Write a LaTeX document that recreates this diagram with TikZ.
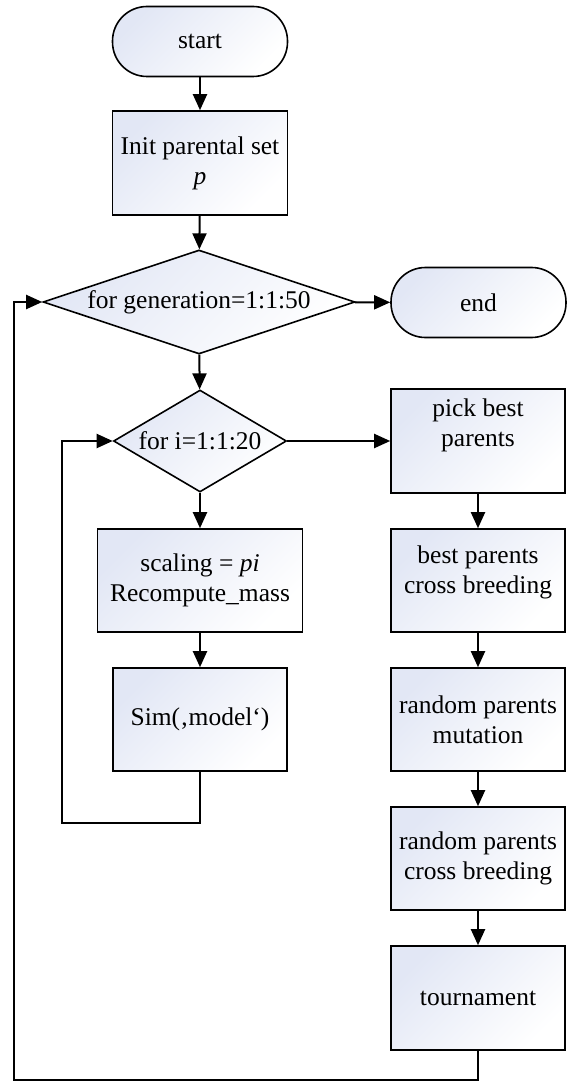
\documentclass[tikz,border=0pt]{standalone}
\usepackage{fontspec}
\setmainfont{Liberation Serif}
\usetikzlibrary{shapes.geometric,arrows.meta}
\definecolor{shadec}{HTML}{E2E7F5}
\begin{document}
\begin{tikzpicture}[x=1pt,y=-1pt,
  every node/.style={font=\fontsize{25.5}{30}\selectfont, align=center, inner sep=0pt},
  shaded/.style={draw, line width=1.6pt, top color=shadec, bottom color=white, shading angle=45},
  box/.style={shaded, rectangle, minimum width=174pt, minimum height=104pt},
  pill/.style={shaded, rectangle, rounded corners=34.5pt, minimum width=175pt, minimum height=70pt},
  decide/.style={shaded, diamond},
  conn/.style={line width=2pt, line join=miter, -{Triangle[length=16pt,width=14pt]}}
]
\path[use as bounding box] (0,0) rectangle (569,1083);

\node[pill] (start) at (200,41.5) {start};
\node[box, minimum width=175pt] (init) at (200,163) {Init parental set\\\textit{p}};
\node[decide, aspect=3, minimum width=312pt, minimum height=104pt] (bigd) at (199,302) {for generation=1:1:50};
\node[pill] (end) at (478.5,302.5) {end};
\node[decide, aspect=1.6, minimum width=173pt, minimum height=102pt] (smalld) at (200,441) {for i=1:1:20};
\node[box, minimum width=205pt, minimum height=103pt] (scal) at (200,580.5) {scaling = \textit{pi}\\Recompute\_mass};
\node[box, minimum height=103pt] (sim) at (200,719.5) {Sim(‚model‘)};

\node[box] (pick) at (478,441) {pick best\\parents\\[6pt]\mbox{}};
\node[box, minimum height=103pt] (bpc) at (478,580.5) {best parents\\cross breeding\\[-8pt]\mbox{}};
\node[box, minimum height=103pt] (rpm) at (478,719.5) {random parents\\mutation};
\node[box, minimum height=103pt] (rpc) at (478,858.5) {random parents\\cross breeding};
\node[box] (tour) at (478,998) {tournament};

\coordinate (l1a) at (200,823);
\coordinate (l1b) at (62,823);
\coordinate (l2b) at (14,1080);

\draw[conn] (start) -- (init);
\draw[conn] (init) -- (bigd);
\draw[conn] (bigd) -- (end);
\draw[conn] (bigd) -- (smalld);
\draw[conn] (smalld) -- (scal);
\draw[conn] (scal) -- (sim);
\draw[conn] (smalld) -- (pick);
\draw[conn] (pick) -- (bpc);
\draw[conn] (bpc) -- (rpm);
\draw[conn] (rpm) -- (rpc);
\draw[conn] (rpc) -- (tour);
\draw[conn] (sim.south) -- (l1a) -- (l1b) |- (smalld.west);
\draw[conn] (tour.south) |- (l2b) |- (bigd.west);
\end{tikzpicture}
\end{document}
